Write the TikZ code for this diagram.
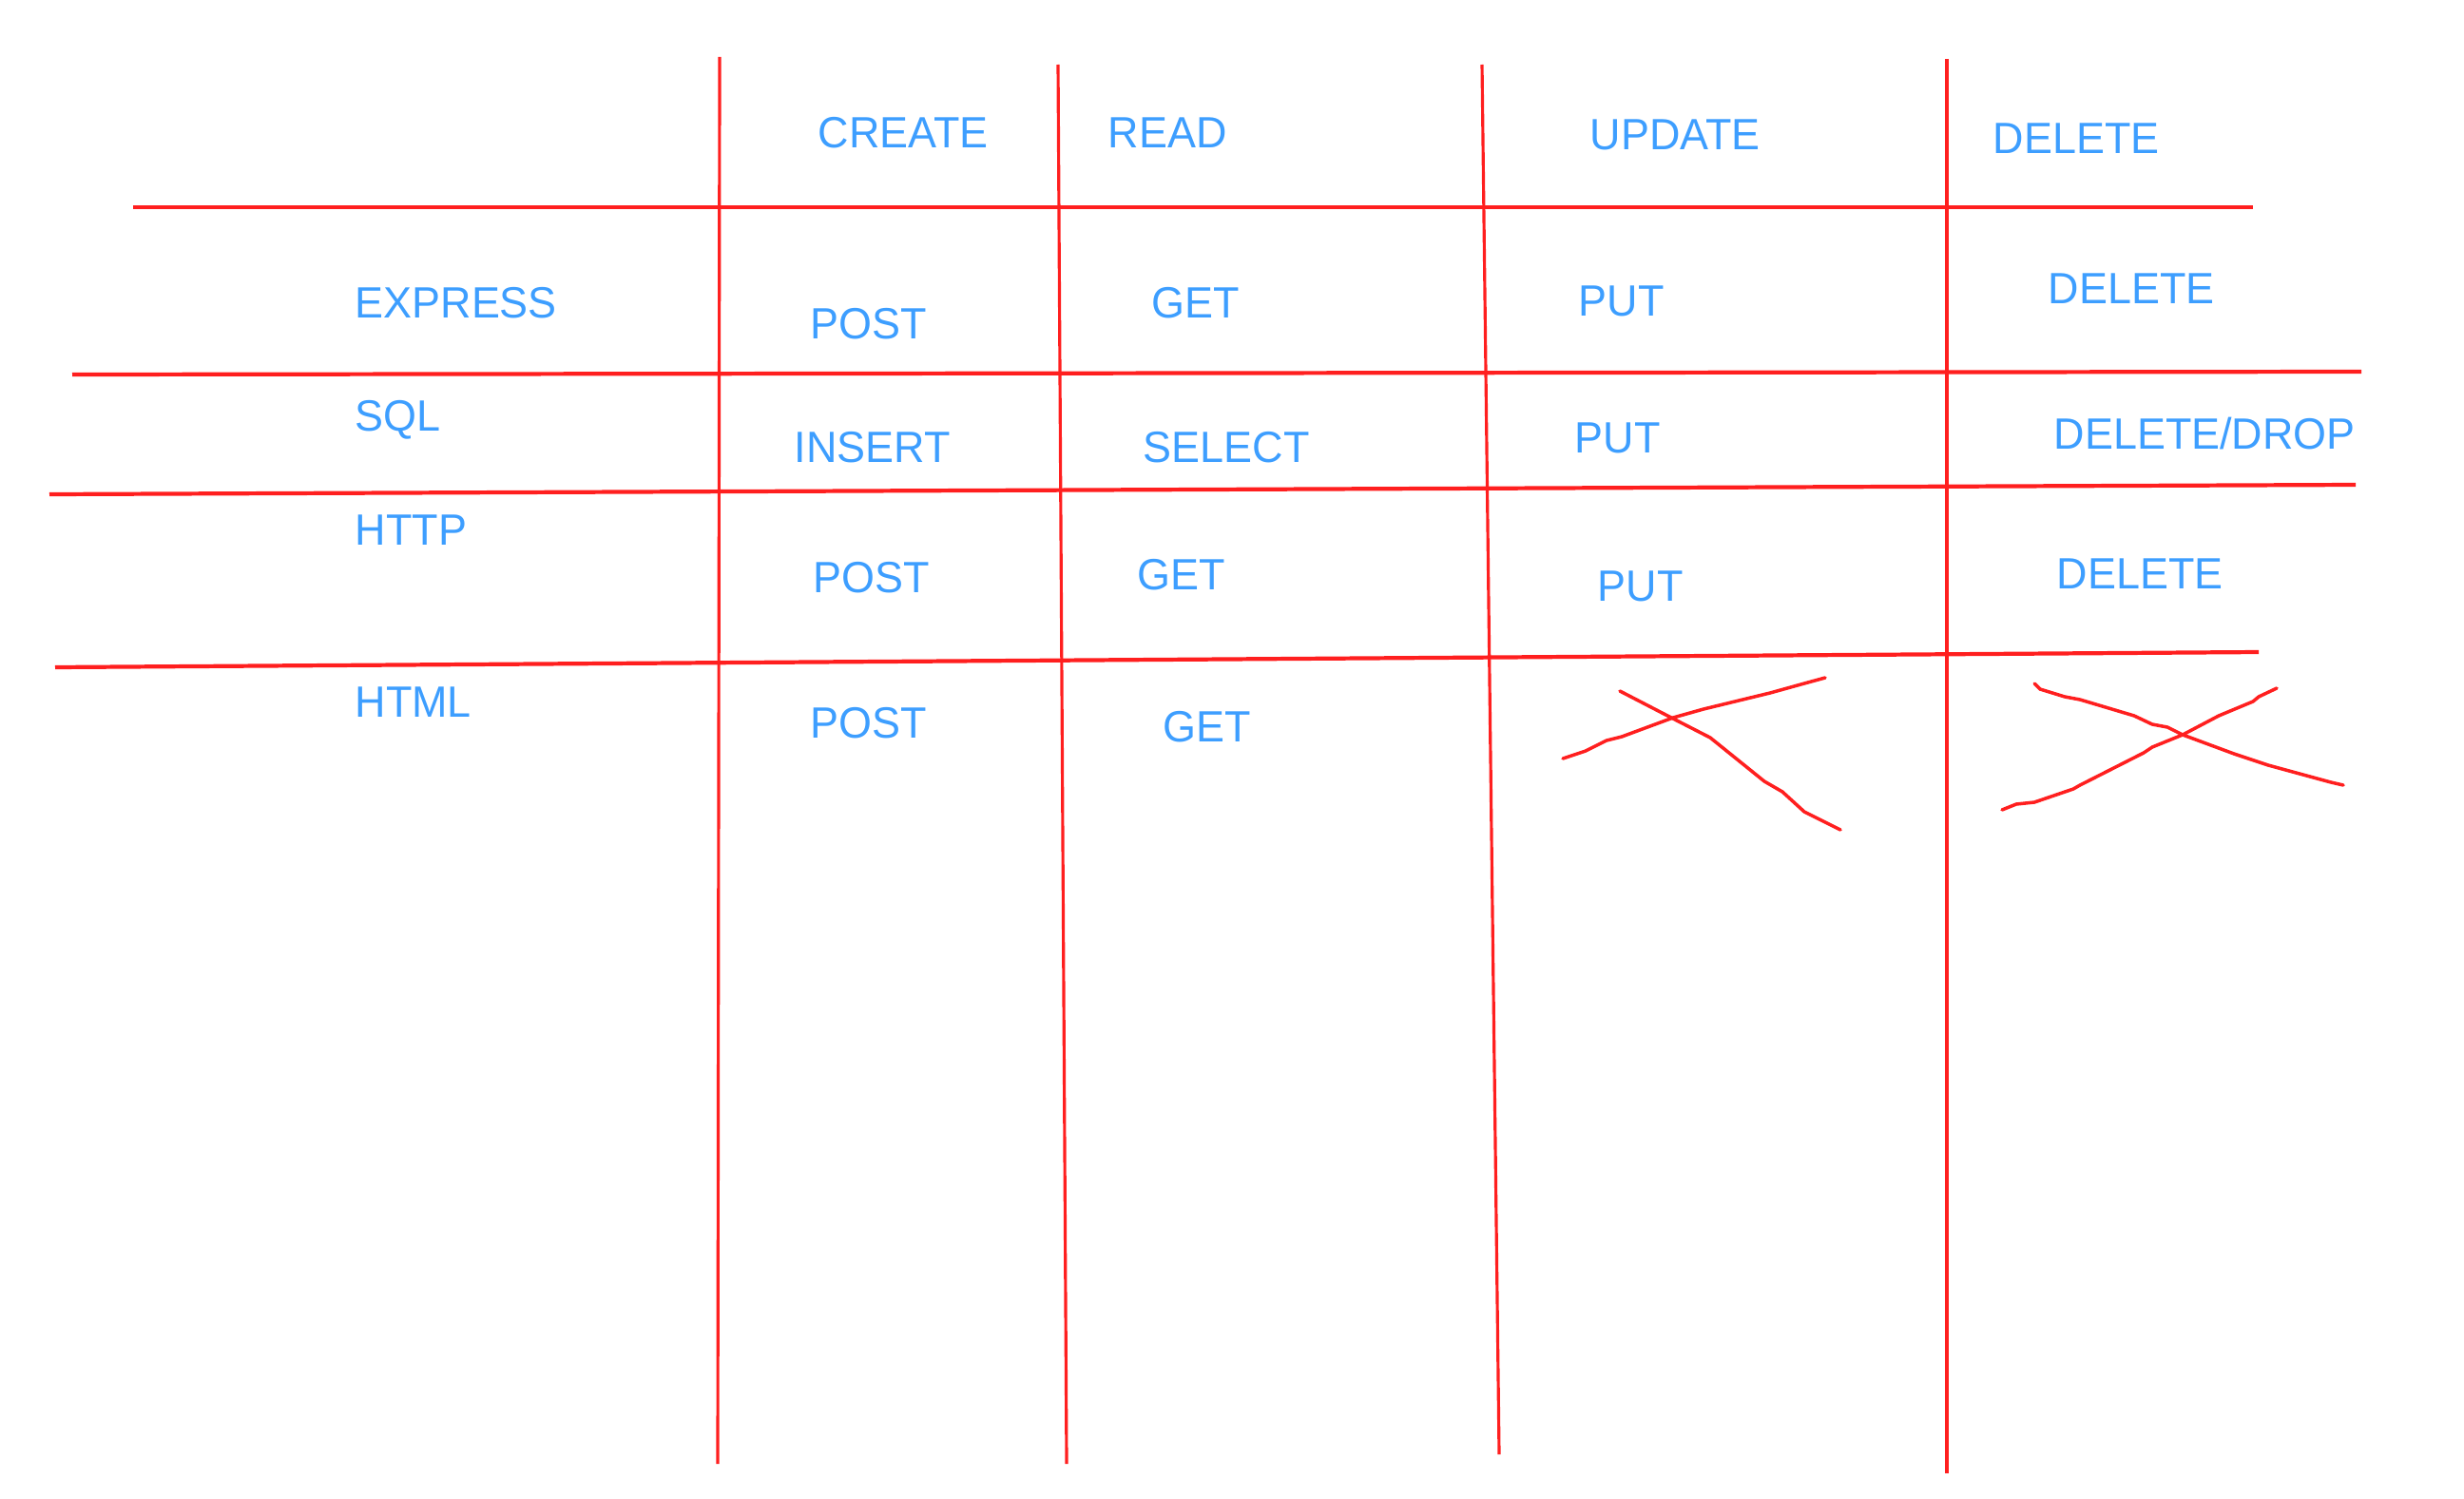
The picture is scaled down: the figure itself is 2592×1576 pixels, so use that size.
\documentclass[tikz,border=0pt]{standalone}
\usepackage{fontspec}
\setmainfont{Liberation Sans}[FakeStretch=0.975]
\usetikzlibrary{positioning}
\definecolor{InkRed}{HTML}{FF1F1F}
\definecolor{InkBlue}{HTML}{3D9EFF}

\begin{document}
\begin{tikzpicture}[x=0.01cm, y=-0.01cm,
    rule/.style={InkRed, line width=1.2pt},
    colrule/.style={InkRed, line width=0.9pt},
    scribble/.style={InkRed, line width=1pt, line cap=round, line join=round},
    cell/.style={InkBlue, font=\fontsize{13.1pt}{15pt}\selectfont, inner sep=0pt, anchor=base west, xshift=-0.02cm}]
  \useasboundingbox (0,0) rectangle (2592,1576);

  % =====================================================================
  % 1. ROW RULES
  % =====================================================================
  \coordinate (RuleAL) at (140,218);  \coordinate (RuleAR) at (2370,218);
  \coordinate (RuleBL) at (76,394);   \coordinate (RuleBR) at (2484,391);
  \coordinate (RuleCL) at (52,520);   \coordinate (RuleCR) at (2478,510);
  \coordinate (RuleDL) at (58,702);   \coordinate (RuleDR) at (2376,686);
  \foreach \r in {A,B,C,D}
    \draw[rule] (Rule\r L) -- (Rule\r R);

  % =====================================================================
  % 2. COLUMN RULES
  % =====================================================================
  \coordinate (ColAT) at (757,60);   \coordinate (ColAB) at (755,1540);
  \coordinate (ColBT) at (1113,68);  \coordinate (ColBB) at (1122,1540);
  \coordinate (ColCT) at (1559,68);  \coordinate (ColCB) at (1577,1530);
  \coordinate (ColDT) at (2048,62);  \coordinate (ColDB) at (2048,1550);
  \foreach \c in {A,B,C,D}
    \draw[colrule] (Col\c T) -- (Col\c B);

  % =====================================================================
  % 3. HEADER ROW
  % =====================================================================
  \node[cell] (HdCreate) at (862,156) {CREATE};
  \node[cell] (HdRead)   at (1167,156) {READ};
  \node[cell] (HdUpdate) at (1674,158) {UPDATE};
  \node[cell] (HdDelete) at (2098,162) {DELETE};

  % =====================================================================
  % 4. ROW LABELS
  % =====================================================================
  \node[cell] (RowExpress) at (375,334) {EXPRESS};
  \node[cell] (RowSql)     at (375,453) {SQL};
  \node[cell] (RowHttp)    at (375,573) {HTTP};
  \node[cell] (RowHtml)    at (375,754) {HTML};

  % =====================================================================
  % 5. CELLS
  % =====================================================================
  % Express
  \node[cell] (ExPost)   at (854,356) {POST};
  \node[cell] (ExGet)    at (1213,334) {GET};
  \node[cell] (ExPut)    at (1662,332) {PUT};
  \node[cell] (ExDelete) at (2156,319) {DELETE};
  % SQL
  \node[cell] (SqInsert) at (837,486) {INSERT};
  \node[cell] (SqSelect) at (1204,486) {SELECT};
  \node[cell] (SqPut)    at (1658,476) {PUT};
  \node[cell] (SqDrop)   at (2162,472) {DELETE/DROP};
  % HTTP
  \node[cell] (HtPost)   at (857,623) {POST};
  \node[cell] (HtGet)    at (1198,620) {GET};
  \node[cell] (HtPut)    at (1682,632) {PUT};
  \node[cell] (HtDelete) at (2165,619) {DELETE};
  % HTML
  \node[cell] (HmPost)   at (854,776) {POST};
  \node[cell] (HmGet)    at (1225,780) {GET};

  % =====================================================================
  % 6. CROSSED-OUT CELLS
  % =====================================================================
  % Update / HTML
  \draw[scribble] plot coordinates {(1644,798) (1668,790) (1690,779) (1706,775)
    (1760,755) (1792,746) (1862,729) (1898,719) (1920,713)};
  \draw[scribble] plot coordinates {(1704,727) (1760,756) (1799,776) (1856,822)
    (1875,833) (1898,854) (1936,873)};
  % Delete / HTML
  \draw[scribble] plot coordinates {(2140,719) (2146,725) (2172,733) (2188,736)
    (2245,753) (2264,762) (2280,765) (2296,773) (2350,793) (2386,805) (2452,823) (2465,826)};
  \draw[scribble] plot coordinates {(2106,852) (2121,846) (2140,844) (2181,830)
    (2188,826) (2255,792) (2264,786) (2296,773) (2334,753) (2370,738) (2376,733) (2395,724)};

\end{tikzpicture}
\end{document}
